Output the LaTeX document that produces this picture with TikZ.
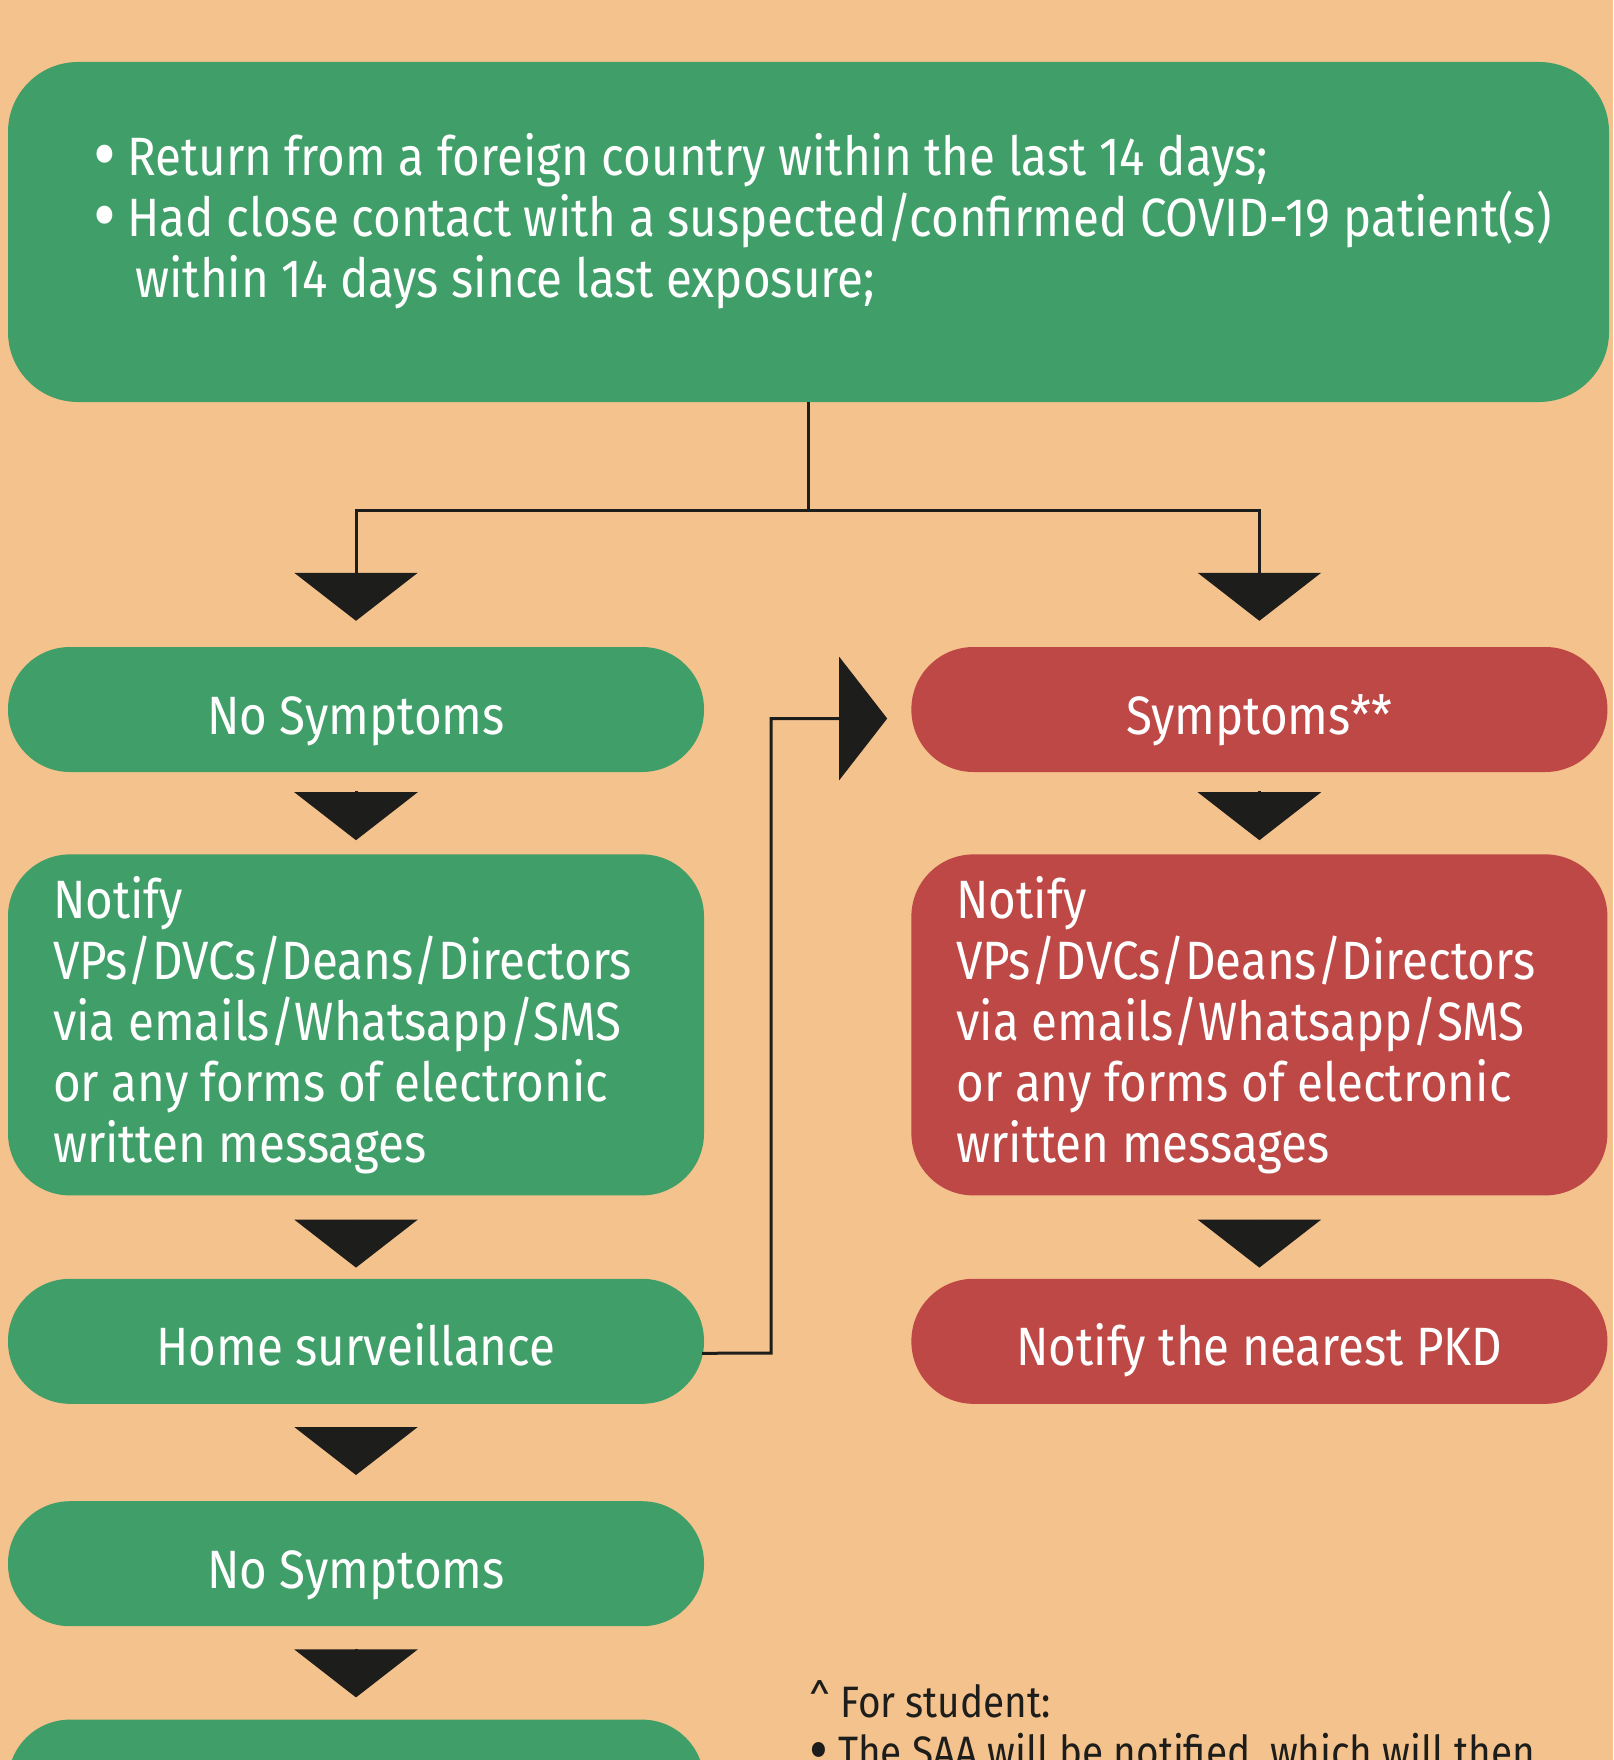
\documentclass[tikz,border=0pt]{standalone}
\usepackage{fontspec}
\setmainfont{Fira Sans}[FakeStretch=0.88]
\usetikzlibrary{positioning,calc,arrows.meta}
\definecolor{peach}{HTML}{F4C28D}
\definecolor{boxgreen}{HTML}{409F68}
\definecolor{boxred}{HTML}{BD4845}
\definecolor{ink}{HTML}{1D1D1B}
\newcommand\bigbul{\makebox[34pt][l]{\smash{\raisebox{-6pt}{\fontsize{80}{61}\selectfont\textbullet}}}}
\newcommand\notebul{\makebox[29pt][l]{\smash{\raisebox{-5pt}{\fontsize{66}{50}\selectfont\textbullet}}}}

\begin{document}
\begin{tikzpicture}[x=1pt,y=-1pt,
  pill/.style={rectangle,rounded corners=62pt,minimum width=696pt,minimum height=125pt,inner sep=0pt,text height=49pt,text depth=0pt,align=center},
  greenpill/.style={pill,fill=boxgreen},
  redpill/.style={pill,fill=boxred},
  msgbox/.style={rectangle,rounded corners=62pt,text width=606pt,inner xsep=45pt,inner ysep=0pt,minimum height=341pt,align=flush left},
  flow/.style={draw=ink,line width=3pt,-{Triangle[width=123pt,length=48pt]}}]
\tikzstyle{every node}=[font=\fontsize{54}{61}\selectfont,text=white]
\useasboundingbox (0,0) rectangle (1613,1760);
\fill[peach] (0,0) rectangle (1613,1760);
\clip (0,0) rectangle (1613,1760);

\path node[rectangle,rounded corners=70pt,fill=boxgreen,text width=1430pt,inner xsep=85.5pt,minimum height=340pt,align=flush left] (cond) at (808.5,232)
  {\mbox{\bigbul Return from a foreign country within the last 14 days;}\\
   \mbox{\bigbul Had close contact with a suspected/confirmed COVID-19 patient(s)}\\
   \mbox{\hspace*{42pt}within 14 days since last exposure;}\par\vspace*{22pt}};

% left column
\path node[greenpill] (ns) at (356,709.5) {No Symptoms};
\path node[msgbox,fill=boxgreen,below=82pt of ns] (nl) {Notify\\VPs/DVCs/Deans/Directors\\via emails/Whatsapp/SMS\\or any forms of electronic\\written messages};
\path node[greenpill,below=83pt of nl] (hs) {Home surveillance};
\path node[greenpill,below=97pt of hs] (ns2) {No Symptoms};
\path node[greenpill,below=93pt of ns2] (last) {};

% right column
\path node[redpill,right=207pt of ns] (sym) {Symptoms**};
\path node[msgbox,fill=boxred,below=82pt of sym] (nr) {Notify\\VPs/DVCs/Deans/Directors\\via emails/Whatsapp/SMS\\or any forms of electronic\\written messages};
\path node[redpill,below=83pt of nr] (pkd) {Notify the nearest PKD};

\path node[anchor=north west,inner sep=0pt,text=ink,font=\fontsize{44}{50}\selectfont,align=left] (note) at (809,1680)
  {\textasciicircum{} For student:\\\notebul The SAA will be notified, which will then};

\draw[flow] (cond.south) |- ($(ns.north)+(0,-136)$) -- ($(ns.north)+(0,-26)$);
\draw[flow] (cond.south) |- ($(sym.north)+(0,-136)$) -- ($(sym.north)+(0,-26)$);
\draw[flow] ($(ns.south)+(0,19)$) -- ($(nl.north)+(0,-14)$);
\draw[flow] ($(sym.south)+(0,19)$) -- ($(nr.north)+(0,-14)$);
\draw[flow] ($(nl.south)+(0,24)$) -- ($(hs.north)+(0,-11)$);
\draw[flow] ($(nr.south)+(0,24)$) -- ($(pkd.north)+(0,-11)$);
\draw[flow] ($(hs.south)+(0,23)$) -- ($(ns2.north)+(0,-26)$);
\draw[flow] ($(ns2.south)+(0,23)$) -- ($(last.north)+(0,-22)$);
\coordinate (bend) at (771,1353);
\draw[flow] ($(hs.east)+(-2,12)$) -- (bend) |- ($(sym.west)+(-24,9)$);
\end{tikzpicture}
\end{document}
